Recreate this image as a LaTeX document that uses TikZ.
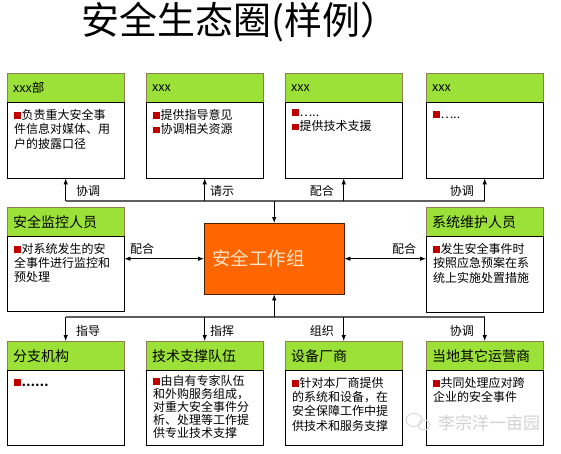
\documentclass[tikz,border=0pt]{standalone}
\usepackage{fontspec}
\setmainfont{Noto Sans CJK SC}
\usepackage{tikz}
\usetikzlibrary{arrows.meta}
\definecolor{headgreen}{RGB}{155,225,55}
\definecolor{headline}{RGB}{140,125,85}
\definecolor{grporange}{RGB}{255,102,0}
\definecolor{grptext}{RGB}{255,228,200}
\definecolor{bulred}{RGB}{192,0,0}
\definecolor{busgray}{RGB}{95,95,95}
\newcommand\bul{\textcolor{bulred}{\rule[0.5pt]{6.5pt}{6.5pt}}\hspace{1pt}}

\begin{document}
\begin{tikzpicture}[x=1pt,y=-1pt,
        head/.style={draw=headline,fill=headgreen,minimum width=117pt,minimum height=29pt,
                anchor=north west,inner sep=0pt,text width=105pt,align=left},
        body/.style={draw=black,fill=white,minimum width=117pt,minimum height=#1,
                anchor=north west,inner sep=0pt},
        txt/.style={anchor=north west,align=left,inner sep=0pt,font=\fontsize{12}{14.3}\selectfont},
        lab/.style={inner sep=0pt,font=\fontsize{12}{14}\selectfont},
        bus/.style={draw=busgray,line width=1.6pt},
        arr/.style={draw=black,line width=0.8pt,-{Latex[length=6pt,width=4.5pt]}},
        dblarr/.style={draw=black,line width=0.8pt,{Latex[length=6pt,width=4.5pt]}-{Latex[length=6pt,width=4.5pt]}},
        wmark/.style={text=gray!35,font=\fontsize{17}{20}\selectfont,inner sep=0pt}]
        \useasboundingbox (0,0) rectangle (561,453);
        \node[font=\fontsize{38}{40}\selectfont] (title) at (240,22) {安全生态圈(样例）};

        % top row
        \node[head,font=\fontsize{12.5}{14}\selectfont] (h1) at (7,73) {xxx部};
        \node[head,font=\fontsize{12.5}{14}\selectfont] (h2) at (146,73) {xxx};
        \node[head,font=\fontsize{12.5}{14}\selectfont] (h3) at (285,73) {xxx};
        \node[head,font=\fontsize{12.5}{14}\selectfont] (h4) at (426,73) {xxx};
        \node[body=76pt] (t1) at (7,102) {};
        \node[body=76pt] (t2) at (146,102) {};
        \node[body=76pt] (t3) at (285,102) {};
        \node[body=76pt] (t4) at (426,102) {};
        \node[txt] (t1x) at (14,109) {\bul 负责重大安全事\\件信息对媒体、用\\户的披露口径};
        \node[txt] (t2x) at (153,109) {\bul 提供指导意见\\\bul 协调相关资源};
        \node[txt] (t3x) at (292,109) {\bul …..\\\bul 提供技术支援};
        \node[txt] (t4x) at (433,111) {\bul …..};

        % centre and middle row
        \node[draw=black!70!grporange,fill=grporange,minimum width=140pt,minimum height=71pt,
                anchor=north west,inner sep=0pt,text width=124pt,align=left,text=grptext,
                font=\fontsize{18.5}{20}\selectfont] (grp) at (204,223) {安全工作组};
        \node[head,font=\fontsize{14}{16}\selectfont] (hl) at (7,207) {安全监控人员};
        \node[head,font=\fontsize{14}{16}\selectfont] (hr) at (426,207) {系统维护人员};
        \node[body=75pt] (ml) at (7,236) {};
        \node[body=76pt] (mr) at (426,236) {};
        \node[txt] (mlx) at (14,243) {\bul 对系统发生的安\\全事件进行监控和\\预处理};
        \node[txt] (mrx) at (433,243) {\bul 发生安全事件时\\按照应急预案在系\\统上实施处置措施};

        % bottom row
        \node[head,font=\fontsize{14}{16}\selectfont] (k1) at (7,341) {分支机构};
        \node[head,font=\fontsize{14}{16}\selectfont] (k2) at (146,341) {技术支撑队伍};
        \node[head,font=\fontsize{14}{16}\selectfont] (k3) at (285,341) {设备厂商};
        \node[head,font=\fontsize{14}{16}\selectfont] (k4) at (426,341) {当地其它运营商};
        \node[body=75pt] (b1) at (7,370) {};
        \node[body=75pt] (b2) at (146,370) {};
        \node[body=75pt] (b3) at (285,370) {};
        \node[body=75pt] (b4) at (426,370) {};
        \node[txt] (b1x) at (14,379) {\bul \textbf{……}};
        \node[txt,font=\fontsize{12}{13}\selectfont] (b2x) at (153,375) {\bul 由自有专家队伍\\和外购服务组成，\\对重大安全事件分\\析、处理等工作提\\供专业技术支撑};
        \node[txt] (b3x) at (292,377) {\bul 针对本厂商提供\\的系统和设备，在\\安全保障工作中提\\供技术和服务支撑};
        \node[txt] (b4x) at (433,377) {\bul 共同处理应对跨\\企业的安全事件};

        % connectors
        \coordinate (topbus) at (0,201);
        \coordinate (botbus) at (0,317);
        \draw[bus] (t1.south |- topbus) -- (t4.south |- topbus);
        \foreach \n in {t1,t2,t3,t4}
                \draw[arr] (\n.south |- topbus) -- (\n.south);
        \draw[arr] (grp.north |- topbus) -- (grp.north);
        \draw[bus] (k1.north |- botbus) -- (k4.north |- botbus);
        \foreach \n in {k1,k2,k3,k4}
                \draw[arr] (\n.north |- botbus) -- (\n.north);
        \draw[arr] (grp.south |- botbus) -- (grp.south);
        \draw[dblarr] (ml.east |- grp) -- (grp.west);
        \draw[dblarr] (grp.east) -- (mr.west |- grp);

        % labels
        \node[lab,anchor=west] (lab1) at (76,191) {协调};
        \node[lab,anchor=west] (lab2) at (210,191) {请示};
        \node[lab,anchor=east] (lab3) at (334,191) {配合};
        \node[lab,anchor=east] (lab4) at (474,191) {协调};
        \node[lab] (lab5) at (142,249) {配合};
        \node[lab] (lab6) at (404,249) {配合};
        \node[lab,anchor=west] (lab7) at (76,331) {指导};
        \node[lab,anchor=west] (lab8) at (210,331) {指挥};
        \node[lab,anchor=east] (lab9) at (334,331) {组织};
        \node[lab,anchor=east] (lab10) at (474,331) {协调};

        % watermark
        \draw[gray!30,line width=1pt] (414,420) ellipse (8 and 6.5);
        \draw[gray!30,line width=1pt] (424,425) ellipse (6 and 5);
        \node[wmark] (wm) at (489,423) {李宗洋一亩园};
\end{tikzpicture}
\end{document}
